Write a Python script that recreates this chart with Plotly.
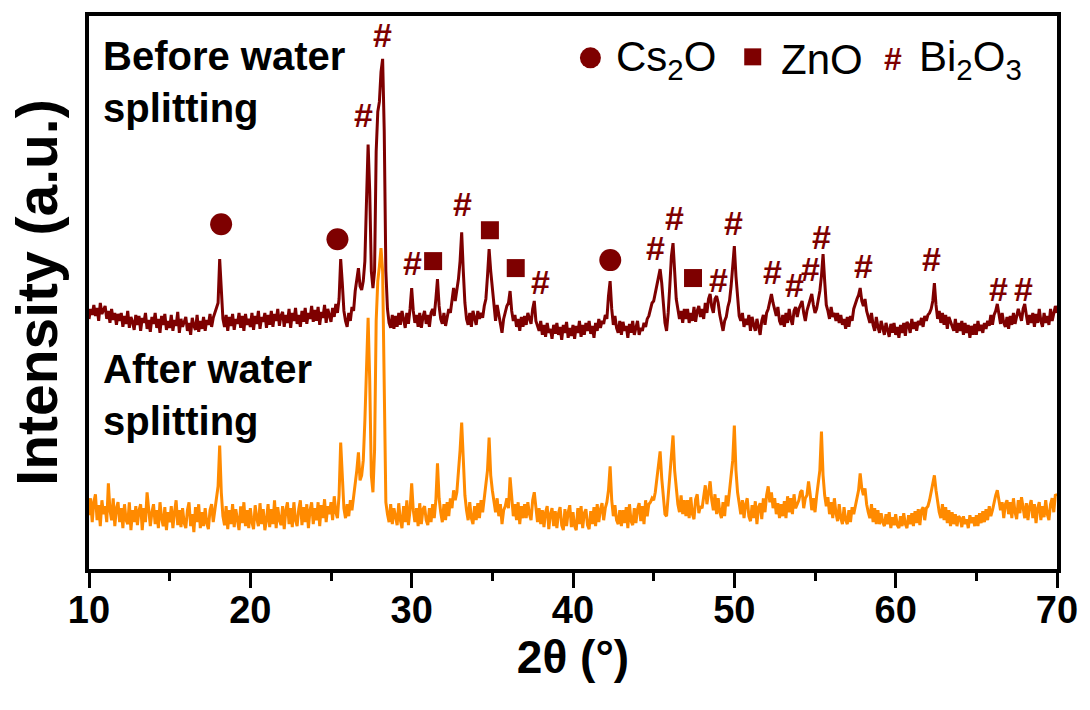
import plotly.graph_objects as go

# ---------------- data ----------------
two_theta = [round(10 + i / 10, 1) for i in range(601)]

before_intensity = (
    [252,262,256,266,255,263,250,268,257,261] +  # 10
    [265,252,260,248,262,251,258,246,257,250] +  # 11
    [258,244,255,247,260,243,254,249,241,256] +  # 12
    [246,255,240,253,248,258,242,251,239,254] +  # 13
    [247,258,243,252,238,255,246,257,241,250] +  # 14
    [243,256,240,251,245,259,238,252,244,249] +  # 15
    [254,240,248,236,253,245,241,256,239,250] +  # 16
    [242,254,240,251,246,257,244,253,258,262] +  # 17
    [268,312,278,252,244,256,240,254,245,257] +  # 18
    [241,252,247,258,243,255,240,257,246,252] +  # 19
    [244,258,241,255,247,260,242,254,249,258] +  # 20
    [243,256,246,260,244,257,250,262,245,255] +  # 21
    [259,244,256,248,262,243,258,250,263,247] +  # 22
    [256,244,260,249,263,247,258,252,265,249] +  # 23
    [261,250,264,246,259,253,266,248,262,256] +  # 24
    [249,263,254,267,258,272,312,288,260,250] +  # 25
    [244,258,250,264,260,280,292,303,285,281] +  # 26
    [290,310,370,427,380,300,283,300,420,460] +  # 27
    [470,500,513,440,300,262,248,243,256,242] +  # 28
    [255,244,258,246,260,249,243,258,247,262] +  # 29
    [283,260,248,256,244,258,243,254,260,247] +  # 30
    [256,244,258,262,255,272,292,265,252,247] +  # 31
    [258,245,254,262,258,272,283,270,280,292] +  # 32
    [310,339,300,268,252,246,258,244,260,252] +  # 33
    [246,260,252,258,253,265,272,295,322,300] +  # 34
    [283,262,250,266,255,246,238,252,258,265] +  # 35
    [268,280,260,250,256,244,252,240,254,244] +  # 36
    [255,246,258,252,247,262,270,250,244,240] +  # 37
    [250,236,246,234,248,238,242,232,246,237] +  # 38
    [248,236,244,231,246,238,249,233,243,235] +  # 39
    [246,232,245,238,250,234,246,236,248,240] +  # 40
    [250,237,245,233,248,240,252,243,250,247] +  # 41
    [256,252,275,290,262,246,255,243,238,250] +  # 42
    [236,249,240,245,233,247,238,250,236,244] +  # 43
    [250,236,243,240,248,244,252,255,262,268] +  # 44
    [270,278,288,296,302,288,265,248,240,258] +  # 45
    [285,315,328,300,272,262,252,260,248,262] +  # 46
    [252,262,248,258,250,264,249,260,265,254] +  # 47
    [262,252,268,258,272,277,264,258,272,275] +  # 48
    [268,256,248,240,250,254,264,270,285,305] +  # 49
    [325,295,270,255,250,258,244,252,246,256] +  # 50
    [240,254,246,240,252,242,236,250,256,246] +  # 51
    [258,262,270,277,268,260,255,264,250,246] +  # 52
    [256,244,258,248,262,252,246,260,264,254] +  # 53
    [262,266,270,258,250,260,265,270,277,266] +  # 54
    [258,262,270,280,295,317,290,266,260,252] +  # 55
    [264,254,258,250,258,248,256,246,252,242] +  # 56
    [254,244,255,250,262,268,272,276,283,270] +  # 57
    [265,272,260,254,248,258,246,240,254,244] +  # 58
    [238,250,241,236,248,239,234,247,238,248] +  # 59
    [236,244,233,246,238,248,235,249,246,238] +  # 60
    [252,242,249,240,250,246,253,244,255,250] +  # 61
    [256,258,262,270,288,266,252,260,248,258] +  # 62
    [246,256,242,254,250,245,240,252,238,248] +  # 63
    [240,250,236,248,238,246,233,245,236,247] +  # 64
    [236,250,240,246,238,248,242,250,245,256] +  # 65
    [246,256,260,267,256,247,258,248,244,254] +  # 66
    [242,255,246,258,247,256,262,256,250,262] +  # 67
    [267,256,246,256,248,258,244,257,248,262] +  # 68
    [250,244,258,248,255,246,262,250,258,265] +  # 69
    [258]                                         # 70
)

after_intensity = (
    [55,72,48,68,76,50,65,44,70,56] +  # 10
    [64,48,87,60,50,72,44,62,68,48] +  # 11
    [62,42,66,50,46,68,40,60,48,64] +  # 12
    [45,60,66,40,62,48,78,56,44,58] +  # 13
    [66,46,60,42,68,52,44,63,40,58] +  # 14
    [48,64,42,58,70,45,60,43,62,47] +  # 15
    [42,60,68,44,56,38,63,48,66,42] +  # 16
    [58,44,62,47,41,60,66,48,62,70] +  # 17
    [84,125,78,54,45,64,41,60,46,66] +  # 18
    [43,61,50,40,64,47,68,44,60,42] +  # 19
    [62,48,41,65,52,44,67,46,61,40] +  # 20
    [50,66,43,61,46,70,42,63,50,45] +  # 21
    [64,41,60,68,46,62,43,68,50,44] +  # 22
    [61,70,45,63,48,66,42,60,68,46] +  # 23
    [62,50,68,44,65,52,71,48,64,56] +  # 24
    [68,50,74,58,52,75,128,88,62,52] +  # 25
    [66,54,70,60,74,82,100,118,90,95] +  # 26
    [110,150,210,253,190,95,78,120,250,290] +  # 27
    [305,323,300,150,68,56,48,66,46,62] +  # 28
    [52,45,67,50,42,64,48,70,45,60] +  # 29
    [87,60,48,62,44,67,46,61,64,50] +  # 30
    [45,62,48,66,52,70,107,72,58,48] +  # 31
    [66,50,68,54,72,62,80,70,78,95] +  # 32
    [120,148,110,75,60,50,68,52,46,64] +  # 33
    [50,67,52,70,58,72,85,100,133,95] +  # 34
    [80,66,58,72,54,66,46,60,64,72] +  # 35
    [62,93,70,54,66,50,68,46,64,52] +  # 36
    [66,52,68,56,50,70,78,60,48,62] +  # 37
    [46,60,43,58,64,41,56,62,44,59] +  # 38
    [42,57,63,45,40,61,44,58,65,43] +  # 39
    [58,44,40,62,46,64,42,57,61,45] +  # 40
    [41,59,46,63,44,66,48,61,67,50] +  # 41
    [62,68,80,104,70,54,65,50,46,60] +  # 42
    [44,60,47,63,42,66,49,45,62,47] +  # 43
    [61,67,49,64,46,70,54,66,68,72] +  # 44
    [70,78,90,105,119,92,70,56,54,75] +  # 45
    [95,120,135,100,78,66,58,75,56,70] +  # 46
    [54,70,52,73,56,51,71,76,57,64] +  # 47
    [62,77,85,66,80,89,70,60,76,56] +  # 48
    [72,58,52,68,54,75,64,80,95,110] +  # 49
    [145,100,78,66,56,70,52,66,72,54] +  # 50
    [49,65,52,69,46,63,67,51,72,58] +  # 51
    [75,84,68,78,62,72,56,67,52,66] +  # 52
    [54,69,52,74,58,72,56,76,62,66] +  # 53
    [70,78,80,62,72,75,89,76,60,72] +  # 54
    [58,74,85,100,139,95,75,64,73,56] +  # 55
    [68,52,72,57,49,66,52,46,63,50] +  # 56
    [46,60,48,63,56,66,72,80,97,82] +  # 57
    [75,82,66,58,52,66,48,62,46,60] +  # 58
    [46,57,48,44,56,46,58,42,53,45] +  # 59
    [56,45,42,54,44,57,46,42,55,46] +  # 60
    [57,44,59,47,61,45,60,63,50,62] +  # 61
    [64,70,78,85,95,80,66,58,52,66] +  # 62
    [50,63,47,60,44,58,46,56,44,54] +  # 63
    [52,43,54,46,51,42,55,47,53,44] +  # 64
    [55,44,57,47,59,48,61,50,64,54] +  # 65
    [60,68,75,80,70,60,68,52,66,70] +  # 66
    [56,68,52,72,58,51,70,57,73,60] +  # 67
    [52,67,50,64,70,52,66,47,62,68] +  # 68
    [50,64,53,70,56,50,66,72,58,76] +  # 69
    [74]                                # 70
)

# phase marks (2theta, marker height)
cs2o_theta = [18.19, 25.4, 42.31]
cs2o_level = [347, 332, 311]
zno_theta = [31.33, 34.85, 36.45, 47.44]
zno_level = [310, 341, 303, 293]
bi2o3_theta = [28.18, 27.0, 30.03, 33.12, 37.99, 45.09, 46.27, 49.04, 49.97,
               52.38, 53.75, 54.7, 55.4, 57.99, 62.19, 66.39, 67.93]
bi2o3_level = [537, 457, 308, 367, 289, 323, 353, 291, 348,
               299, 286, 302, 334, 305, 312, 282, 282]

x_ticks = [10, 20, 30, 40, 50, 60, 70]

# ---------------- style ----------------
MAROON = "#7E0000"
ORANGE = "#FF8A00"
ARIAL = "Liberation Sans, Arial, sans-serif"

fig = go.Figure()
fig.add_trace(go.Scatter(x=two_theta, y=after_intensity, mode="lines",
                         line=dict(color=ORANGE, width=3), hoverinfo="skip"))
fig.add_trace(go.Scatter(x=two_theta, y=before_intensity, mode="lines",
                         line=dict(color=MAROON, width=3), hoverinfo="skip"))

fig.add_trace(go.Scatter(x=cs2o_theta, y=cs2o_level, mode="markers",
                         marker=dict(symbol="circle", size=22, color=MAROON, line=dict(width=0))))
fig.add_trace(go.Scatter(x=zno_theta, y=zno_level, mode="markers",
                         marker=dict(symbol="square", size=18, color=MAROON, line=dict(width=0))))

hash_font = dict(family=ARIAL, size=34, color=MAROON, weight="bold")
for t, v in zip(bi2o3_theta, bi2o3_level):
    fig.add_annotation(x=t, y=v, xref="x", yref="y", text="#", showarrow=False,
                       xanchor="center", yanchor="middle", font=hash_font)

# legend row (drawn as symbols + text)
fig.add_trace(go.Scatter(x=[41.08], y=[514], mode="markers",
                         marker=dict(symbol="circle", size=21, color=MAROON)))
fig.add_trace(go.Scatter(x=[51.14], y=[515], mode="markers",
                         marker=dict(symbol="square", size=17, color=MAROON)))
fig.add_annotation(x=59.84, y=513, xref="x", yref="y", text="#", showarrow=False,
                   xanchor="center", yanchor="middle",
                   font=dict(family=ARIAL, size=32, color=MAROON, weight="bold"))

legend_font = dict(family=ARIAL, size=42, color="black")
fig.add_annotation(x=42.55, y=512, xref="x", yref="y", text="Cs<sub>2</sub>O",
                   showarrow=False, xanchor="left", yanchor="middle", font=legend_font)
fig.add_annotation(x=52.75, y=512, xref="x", yref="y", text="ZnO",
                   showarrow=False, xanchor="left", yanchor="middle", font=legend_font)
fig.add_annotation(x=61.3, y=512, xref="x", yref="y", text="Bi<sub>2</sub>O<sub>3</sub>",
                   showarrow=False, xanchor="left", yanchor="middle", font=legend_font)

label_font = dict(family=ARIAL, size=40, color="black", weight="bold")
fig.add_annotation(x=10.75, y=540, xref="x", yref="y", text="Before water<br>splitting",
                   showarrow=False, xanchor="left", yanchor="top", align="left", font=label_font)
fig.add_annotation(x=10.75, y=226, xref="x", yref="y", text="After water<br>splitting",
                   showarrow=False, xanchor="left", yanchor="top", align="left", font=label_font)

fig.update_layout(
    width=1090, height=710,
    margin=dict(l=89, r=30, t=14, b=141),
    paper_bgcolor="white", plot_bgcolor="white",
    showlegend=False,
    xaxis=dict(
        range=[10, 70], tickvals=x_ticks, ticktext=[str(v) for v in x_ticks],
        ticks="outside", ticklen=15, tickwidth=3, tickcolor="black",
        minor=dict(dtick=5, tick0=10, ticks="outside", ticklen=8, tickwidth=3, tickcolor="black"),
        showline=True, linewidth=3.5, linecolor="black", mirror=True,
        showgrid=False, zeroline=False, ticklabelstandoff=-10,
        tickfont=dict(family=ARIAL, size=38, color="black", weight="bold"),
        title=dict(text="2θ (°)", standoff=4,
                   font=dict(family=ARIAL, size=46, color="black", weight="bold")),
    ),
    yaxis=dict(
        range=[1, 556], showticklabels=False, ticks="",
        showline=True, linewidth=3.5, linecolor="black", mirror=True,
        showgrid=False, zeroline=False,
        title=dict(text="Intensity (a.u.)", standoff=10,
                   font=dict(family=ARIAL, size=57, color="black", weight="bold")),
    ),
)

fig.write_html("out.html")
